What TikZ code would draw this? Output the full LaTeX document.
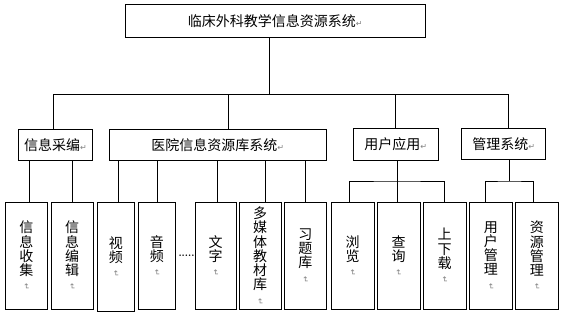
\documentclass[tikz,border=0pt]{standalone}
\usepackage{fontspec}
\usepackage{graphicx}
\newfontfamily\cjk{Noto Sans CJK SC}
\newfontfamily\symfont{DejaVu Sans}
\newcommand{\retmark}{{\symfont\color{gray}\fontsize{8}{8}\selectfont ↵}}
\newcommand{\vretmark}{\rotatebox[origin=c]{-90}{\retmark}}

\begin{document}
\begin{tikzpicture}[
      x=1pt, y=-1pt,
      box/.style={draw, line width=0.9pt, inner sep=0pt, font=\cjk\fontsize{14}{14.2}\selectfont},
      hbox/.style={box, minimum height=31.5pt},
      vbox/.style={box, minimum height=106.5pt, align=center},
      link/.style={line width=0.9pt}
  ]
  \useasboundingbox (0,0) rectangle (566,312);

  % 1. Radice
  \node[box, minimum width=300pt, minimum height=33pt] (root) at (275.3,21.3) {临床外科教学信息资源系统\retmark};

  % 2. Secondo livello
  \node[hbox, minimum width=74.4pt]  (caibian)  at (55.5,144.9)  {信息采编\retmark};
  \node[hbox, minimum width=216.7pt] (ziyuanku) at (217.7,144.9) {医院信息资源库系统\retmark};
  \node[hbox, minimum width=84.7pt]  (yingyong) at (395.7,144.5) {用户应用\retmark};
  \node[hbox, minimum width=84pt]    (guanli)   at (503.7,143.8) {管理系统\retmark};

  % 3. Terzo livello
  \node[vbox, minimum width=42.7pt] (shouji)   at (26.35,255.8) {信\\息\\收\\集\\\vretmark};
  \node[vbox, minimum width=42.3pt] (bianji)   at (72.15,255.8) {信\\息\\编\\辑\\\vretmark};
  \node[vbox, minimum width=37.7pt, minimum height=108.5pt] (shipin) at (115.85,256.8) {视\\频\\\vretmark};
  \node[vbox, minimum width=37.7pt] (yinpin)   at (156.85,255.8) {音\\频\\\vretmark};
  \node[font=\normalsize\bfseries, inner sep=0pt] (dots) at (186.5,256) {.....};
  \node[vbox, minimum width=40.7pt] (wenzi)    at (215.65,255.8) {文\\字\\\vretmark};
  \node[vbox, minimum width=41.7pt] (duomeiti) at (260.15,255.8) {多\\媒\\体\\教\\材\\库\\\vretmark};
  \node[vbox, minimum width=42.7pt] (xiti)     at (305.35,255.8) {习\\题\\库\\\vretmark};
  \node[vbox, minimum width=42.7pt] (liulan)   at (352.65,255.8) {浏\\览\\\vretmark};
  \node[vbox, minimum width=43pt]   (chaxun)   at (398.5,255.8)  {查\\询\\\vretmark};
  \node[vbox, minimum width=42.7pt] (zaizai)   at (444.65,255.8) {上\\下\\载\\\vretmark};
  \node[vbox, minimum width=43pt]   (yonghu)   at (490.8,255.8)  {用\\户\\管\\理\\\vretmark};
  \node[vbox, minimum width=43pt]   (ziyuan)   at (536.8,255.8)  {资\\源\\管\\理\\\vretmark};

  % 4. Collegamenti radice -> secondo livello
  \coordinate (bus) at (269.3,94.6);
  \draw[link] (root.south -| bus) -- (bus);
  \draw[link] ([xshift=-2pt]caibian.north) |- (bus) -| ([xshift=4.6pt]guanli.north);
  \draw[link] ([xshift=10.8pt]ziyuanku.north) coordinate (t) -- (t |- bus);
  \draw[link] (yingyong.north) -- (yingyong.north |- bus);

  % 5. Collegamenti verso il terzo livello
  \foreach \n/\s in {shouji/3, bianji/0}
    \draw[link] ([xshift=\s pt]\n.north) coordinate (t) -- (t |- caibian.south);
  \foreach \n/\s in {shipin/2.5, yinpin/1, wenzi/1.7, duomeiti/5, xiti/0}
    \draw[link] ([xshift=\s pt]\n.north) coordinate (t) -- (t |- ziyuanku.south);

  \coordinate (ub) at (397.3,181);
  \draw[link] (yingyong.south -| ub) -- (ub);
  \draw[link] ([xshift=-3.3pt]liulan.north) |- (ub) -| (zaizai.north);
  \draw[link] (chaxun.north -| ub) -- (ub);

  \coordinate (gb) at (509.3,181);
  \draw[link] (guanli.south -| gb) -- (gb);
  \draw[link] ([xshift=-5.5pt]yonghu.north) |- (gb) -| ([xshift=-3.5pt]ziyuan.north);

\end{tikzpicture}
\end{document}
